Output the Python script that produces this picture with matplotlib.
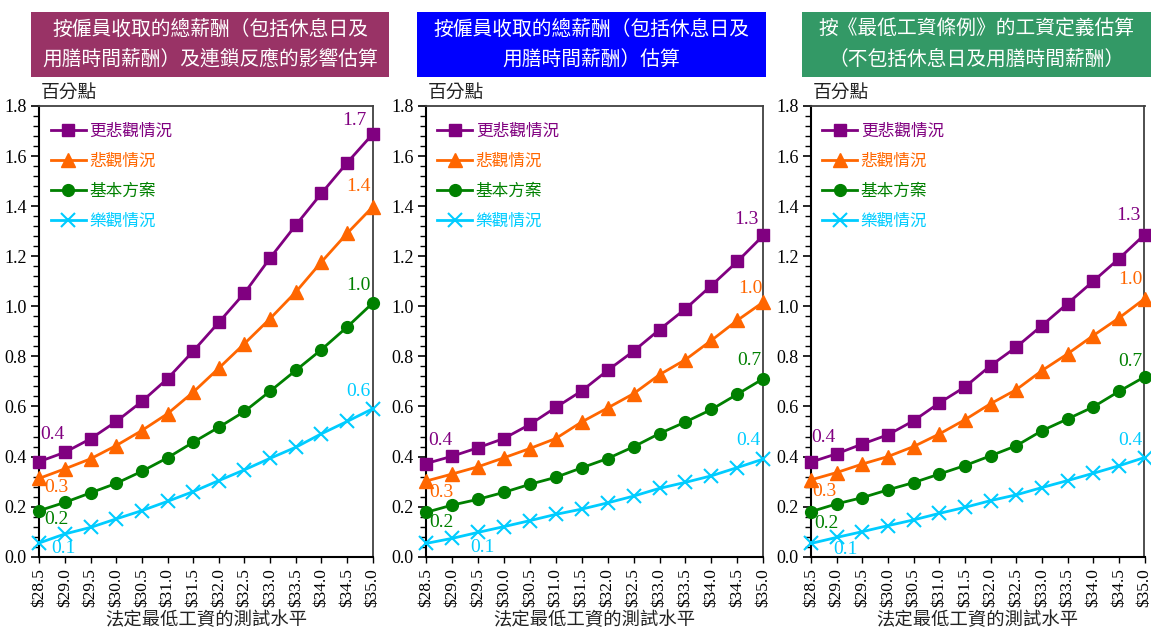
import matplotlib
matplotlib.use("Agg")
import matplotlib.pyplot as plt
from matplotlib.patches import Rectangle
from matplotlib.ticker import MultipleLocator

# ---------------- data ----------------
wage_levels = [28.5, 29.0, 29.5, 30.0, 30.5, 31.0, 31.5, 32.0, 32.5, 33.0, 33.5, 34.0, 34.5, 35.0]
wage_labels = ["$28.5", "$29.0", "$29.5", "$30.0", "$30.5", "$31.0", "$31.5",
               "$32.0", "$32.5", "$33.0", "$33.5", "$34.0", "$34.5", "$35.0"]

series_names = ["更悲觀情況", "悲觀情況", "基本方案", "樂觀情況"]

# Panel 1: total pay incl. rest days & meal breaks, with ripple effect
p1_more_pess = [0.38, 0.417, 0.471, 0.54, 0.62, 0.711, 0.821, 0.936, 1.053, 1.193, 1.324, 1.451, 1.573, 1.688]
p1_pess      = [0.313, 0.351, 0.391, 0.444, 0.504, 0.571, 0.657, 0.753, 0.851, 0.951, 1.057, 1.177, 1.291, 1.397]
p1_base      = [0.184, 0.217, 0.255, 0.293, 0.341, 0.395, 0.457, 0.517, 0.58, 0.661, 0.744, 0.827, 0.917, 1.013]
p1_opt       = [0.055, 0.091, 0.117, 0.151, 0.184, 0.221, 0.26, 0.304, 0.347, 0.393, 0.437, 0.491, 0.54, 0.591]

# Panel 2: total pay incl. rest days & meal breaks
p2_more_pess = [0.372, 0.401, 0.435, 0.472, 0.528, 0.596, 0.662, 0.744, 0.821, 0.907, 0.99, 1.083, 1.179, 1.283]
p2_pess      = [0.302, 0.33, 0.359, 0.395, 0.432, 0.472, 0.538, 0.594, 0.651, 0.727, 0.787, 0.864, 0.944, 1.017]
p2_base      = [0.177, 0.206, 0.229, 0.257, 0.289, 0.317, 0.355, 0.392, 0.439, 0.492, 0.538, 0.588, 0.649, 0.711]
p2_opt       = [0.053, 0.073, 0.097, 0.12, 0.144, 0.169, 0.19, 0.215, 0.242, 0.273, 0.297, 0.323, 0.356, 0.39]

# Panel 3: wage definition under Minimum Wage Ordinance
p3_more_pess = [0.378, 0.411, 0.45, 0.487, 0.543, 0.614, 0.678, 0.763, 0.837, 0.923, 1.011, 1.10, 1.19, 1.286]
p3_pess      = [0.307, 0.336, 0.37, 0.40, 0.44, 0.49, 0.547, 0.611, 0.667, 0.743, 0.81, 0.883, 0.953, 1.03]
p3_base      = [0.18, 0.211, 0.236, 0.267, 0.296, 0.33, 0.364, 0.403, 0.443, 0.503, 0.55, 0.598, 0.66, 0.718]
p3_opt       = [0.053, 0.077, 0.10, 0.124, 0.147, 0.173, 0.197, 0.224, 0.247, 0.276, 0.304, 0.333, 0.363, 0.396]

panel_titles = [
    "按僱員收取的總薪酬（包括休息日及\n用膳時間薪酬）及連鎖反應的影響估算",
    "按僱員收取的總薪酬（包括休息日及\n用膳時間薪酬）估算",
    "按《最低工資條例》的工資定義估算\n（不包括休息日及用膳時間薪酬）",
]
y_label = "百分點"
x_label = "法定最低工資的測試水平"

# ---------------- style ----------------
CJK = ["Noto Sans CJK TC", "DejaVu Sans"]
SERIF = ["Liberation Serif", "DejaVu Serif"]
colors = ["#800080", "#FF6600", "#008000", "#00CCFF"]
markers = ["s", "^", "o", "x"]
msizes = [8.5, 10, 8.5, 10]
box_colors = ["#993366", "#0000FF", "#339966"]

W, H = 1151, 628
fig = plt.figure(figsize=(W / 100, H / 100), dpi=100)

ax_px = [(39.3, 372.7), (426.0, 763.3), (811.0, 1144.5)]
top_px, bot_px = 106.0, 556.7
box_px = [(31, 389), (417, 766), (802, 1151)]
box_y = (12, 76.7)

panels = [
    [p1_more_pess, p1_pess, p1_base, p1_opt],
    [p2_more_pess, p2_pess, p2_base, p2_opt],
    [p3_more_pess, p3_pess, p3_base, p3_opt],
]

# label offsets (pixels) for start / end annotations
start_offsets = [
    [(13, 27), (17, -9), (17, -9), (24, -6)],
    [(14, 23), (15, -11), (15, -10), (56, -4)],
    [(12, 25), (13, -12), (15, -12), (34, -6)],
]
end_offsets = [
    [(-18, 14), (-14, 20), (-14, 18), (-14, 17)],
    [(-17, 16), (-13, 14), (-14, 18), (-15, 19)],
    [(-16, 19), (-14, 19), (-14, 15), (-14, 17)],
]

for i, (series, (l, r)) in enumerate(zip(panels, ax_px)):
    ax = fig.add_axes([l / W, 1 - bot_px / H, (r - l) / W, (bot_px - top_px) / H])
    for j, (vals, name) in enumerate(zip(series, series_names)):
        ax.plot(wage_levels, vals, color=colors[j], marker=markers[j], markersize=msizes[j],
                markeredgewidth=1.5 if markers[j] == "x" else 1.0, linewidth=2.0,
                label=name, clip_on=False, zorder=3)
        s = f"{vals[0]:.1f}"
        e = f"{vals[-1]:.1f}"
        ax.annotate(s, (wage_levels[0], vals[0]), xytext=start_offsets[i][j],
                    textcoords="offset pixels", ha="center", va="center",
                    color=colors[j], fontsize=14, family=SERIF)
        ax.annotate(e, (wage_levels[-1], vals[-1]), xytext=end_offsets[i][j],
                    textcoords="offset pixels", ha="center", va="center",
                    color=colors[j], fontsize=14, family=SERIF)

    ax.set_xlim(wage_levels[0], wage_levels[-1])
    ax.set_ylim(0, 1.8)
    ax.yaxis.set_minor_locator(MultipleLocator(0.04))
    ax.set_yticks([k * 0.2 for k in range(10)])
    ax.set_yticklabels([f"{k * 0.2:.1f}" for k in range(10)], family=SERIF, fontsize=13)
    ax.set_xticks(wage_levels)
    ax.set_xticklabels(wage_labels, rotation=90, family=SERIF, fontsize=12.5)
    ax.tick_params(axis="y", which="major", direction="out", length=6, width=1.2, pad=3)
    ax.tick_params(axis="y", which="minor", direction="out", length=4, width=1.0)
    ax.tick_params(axis="x", which="major", direction="out", length=4, width=1.0, pad=4)
    for side in ["left", "bottom"]:
        ax.spines[side].set_color("black")
        ax.spines[side].set_linewidth(1.5)
    for side in ["top", "right"]:
        ax.spines[side].set_color("#404040")
        ax.spines[side].set_linewidth(1.3)

    ax.text(0.005, 1.006, y_label, transform=ax.transAxes, ha="left", va="bottom",
            family=CJK, fontsize=13.5, color="#222222")
    ax.set_xlabel(x_label, family=CJK, fontsize=13.2, color="#222222", labelpad=3)

    leg = ax.legend(loc="upper left", bbox_to_anchor=(0.034, 0.962), frameon=False,
                    numpoints=1, handlelength=2.1, handletextpad=0.2, borderpad=0,
                    borderaxespad=0, labelspacing=0.78, prop={"family": CJK, "size": 12})
    for t, c in zip(leg.get_texts(), colors):
        t.set_color(c)

    # title box
    bx0, bx1 = box_px[i]
    fig.add_artist(Rectangle((bx0 / W, 1 - box_y[1] / H), (bx1 - bx0) / W,
                             (box_y[1] - box_y[0]) / H, transform=fig.transFigure,
                             facecolor=box_colors[i], edgecolor="none", zorder=0))
    fig.text((bx0 + bx1) / 2 / W, 1 - (box_y[0] + box_y[1]) / 2 / H, panel_titles[i],
             ha="center", va="center", color="white", family=CJK, fontsize=14.2,
             linespacing=1.55)

fig.savefig("out.png", dpi=100)
